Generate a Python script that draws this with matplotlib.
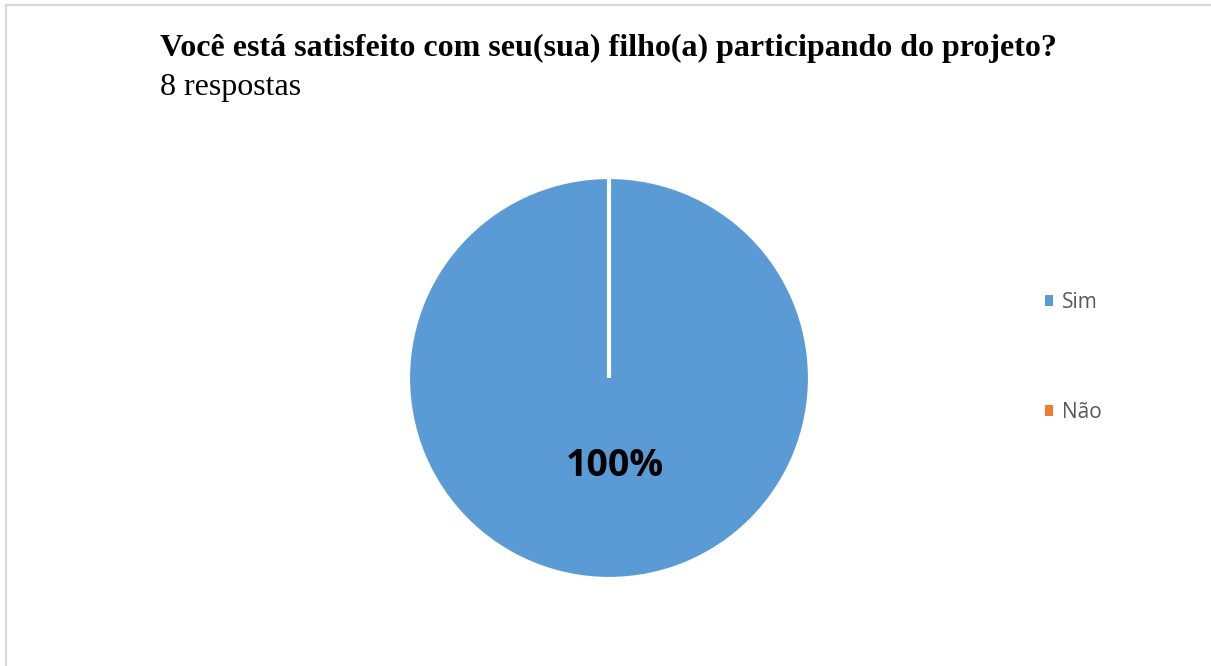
import matplotlib
matplotlib.use("Agg")
import matplotlib.pyplot as plt
from matplotlib.patches import Rectangle, Patch
from matplotlib.transforms import offset_copy

# survey answers
labels = ["Sim", "Não"]
counts = [8, 0]
colors = ["#5B9BD5", "#ED7D31"]
question = "Você está satisfeito com seu(sua) filho(a) participando do projeto?"
subtitle = "8 respostas"

W, H = 1211, 666
fig = plt.figure(figsize=(W / 100, H / 100), dpi=100)

# light frame around the chart area
fig.add_artist(Rectangle((5.5 / W, -0.01), 1.1, 1 - 5.5 / H + 0.01,
                         transform=fig.transFigure, fill=False,
                         edgecolor="#d9d9d9", linewidth=1.6))

fig.text(160 / W, 1 - 56 / H, question, fontsize=23, fontweight="bold",
         family="Liberation Serif", color="black", va="baseline")
fig.text(160 / W, 1 - 95 / H, subtitle, fontsize=23,
         family="Liberation Serif", color="black", va="baseline")

# pie
r = 201
cx, cy = 609, 378
ax = fig.add_axes([(cx - r) / W, 1 - (cy + r) / H, 2 * r / W, 2 * r / H])


def pct(p):
    return f"{p:.0f}%" if p > 0 else ""


wedges, _, autotexts = ax.pie(
    counts, colors=colors, startangle=90, counterclock=False,
    autopct=pct, pctdistance=0.44,
    wedgeprops=dict(edgecolor="white", linewidth=3),
    textprops=dict(fontsize=27, fontweight="bold", family="Open Sans",
                   color="black"))
# nudge the percentage label a little to the right
for t in autotexts:
    t.set_transform(offset_copy(t.get_transform(), fig=fig, x=6, y=0,
                                units="dots"))
ax.set_xlim(-1, 1)
ax.set_ylim(-1, 1)
ax.set_aspect("equal")
ax.axis("off")

handles = [Patch(facecolor=c, edgecolor="none") for c in colors]
fig.legend(handles, labels, loc="upper left",
           bbox_to_anchor=(1045 / W, 1 - 292 / H), frameon=False,
           prop=dict(family="Open Sans", size=15),
           labelcolor="#595959", handlelength=0.4, handleheight=0.4,
           handletextpad=0.43, labelspacing=4.28, borderpad=0, borderaxespad=0)

fig.savefig("out.png", dpi=100)
